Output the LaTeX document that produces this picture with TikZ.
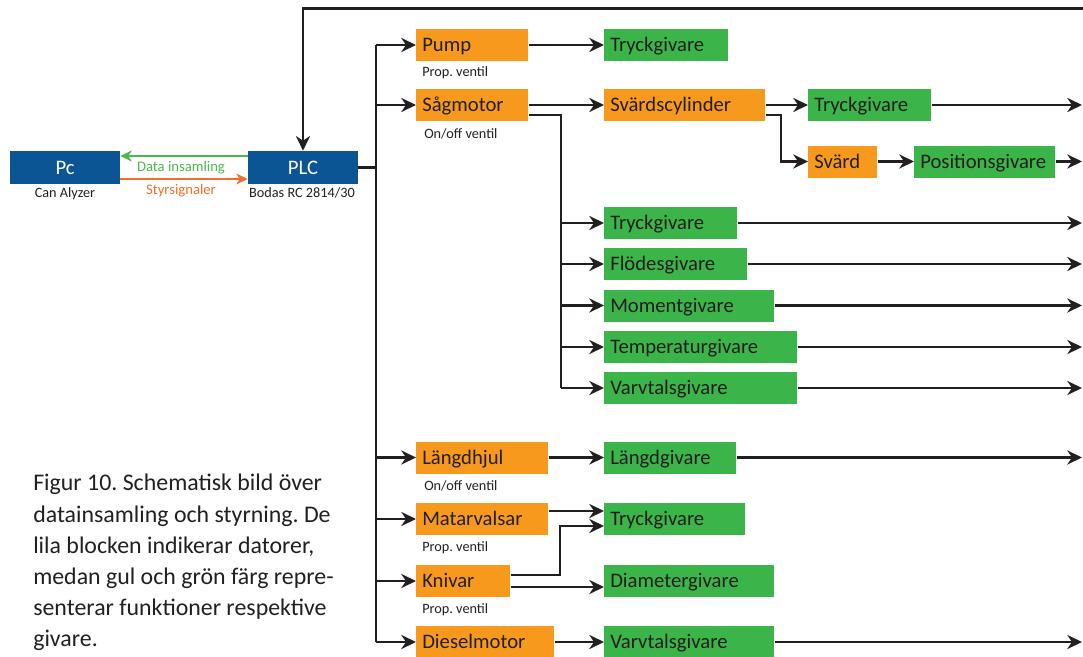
\documentclass[tikz,border=0pt]{standalone}
\usepackage{fontspec}
\setmainfont{Carlito}
\usetikzlibrary{arrows.meta,calc}
\definecolor{plcblue}{RGB}{12,85,148}
\definecolor{funcorange}{RGB}{247,153,28}
\definecolor{sensgreen}{RGB}{59,180,74}
\definecolor{datagreen}{RGB}{76,186,72}
\definecolor{ctrlorange}{RGB}{240,110,40}
\definecolor{ink}{RGB}{35,31,32}
\tikzset{
  pcbox/.style={fill=plcblue, text=white, minimum width=82.5pt, minimum height=24.75pt, inner sep=0pt, font=\fontsize{15.5}{18}\selectfont},
  blk/.style={anchor=west, minimum height=24pt, inner xsep=4.5pt, inner ysep=0pt, text width=#1, align=left, text height=9.8pt, text depth=0pt, text=ink, font=\fontsize{15.5}{18}\selectfont},
  fbox/.style={blk=#1, fill=funcorange},
  sbox/.style={blk=#1, fill=sensgreen},
  small/.style={font=\fontsize{10.7}{12}\selectfont, text=ink, inner sep=0pt},
  conn/.style={draw=ink, line width=1.9pt},
  arr/.style={conn, -{Stealth[length=11pt,width=10.5pt,inset=3.5pt]}},
  thinarr/.style={line width=1.5pt, -{Stealth[length=8.5pt,width=8pt,inset=2.5pt]}},
}
\begin{document}
\frenchspacing
\begin{tikzpicture}[x=0.75pt,y=-0.75pt]
\useasboundingbox (0,0) rectangle (1083,657);

% computers
\node[pcbox] (pc) at (65,167.5) {Pc};
\node[pcbox] (plc) at (303,167.5) {PLC};
\node[small, anchor=north] (pcl) at (65,187) {Can Alyzer};
\node[small, anchor=north] (plcl) at (302,187) {Bodas RC 2814/30};
\draw[thinarr, draw=datagreen, color=datagreen] ($(plc.west)+(0,-11.5)$) -- ($(pc.east)+(0,-11.5)$);
\draw[thinarr, draw=ctrlorange, color=ctrlorange] ($(pc.east)+(0,11.5)$) -- ($(plc.west)+(0,11.5)$);
\node[small, text=datagreen, font=\fontsize{11}{13}\selectfont] (dl) at (181,168) {Data insamling};
\node[small, text=ctrlorange, font=\fontsize{11}{13}\selectfont] (sl) at (181,190.5) {Styrsignaler};

% functions
\node[fbox=75pt] (pump) at (416,45) {Pump};
\node[fbox=75pt] (sag) at (416,105) {Sågmotor};
\node[fbox=90pt] (langd) at (416,457.5) {Längdhjul};
\node[fbox=90pt] (matar) at (416,519) {Matarvalsar};
\node[fbox=61.5pt] (kniv) at (416,581) {Knivar};
\node[fbox=94.5pt] (diesel) at (416,642) {Dieselmotor};
\node[fbox=111.75pt] (svc) at (604,105) {Svärdscylinder};
\node[fbox=42.75pt] (svard) at (808,161.5) {Svärd};

\node[small, anchor=west] (pv1) at (422,72.5) {Prop. ventil};
\node[small, anchor=west] (ov1) at (424,133.5) {On/off ventil};
\node[small, anchor=west] (ov2) at (424,486) {On/off ventil};
\node[small, anchor=west] (pv2) at (422,548) {Prop. ventil};
\node[small, anchor=west] (pv3) at (422,609.5) {Prop. ventil};

% sensors
\node[sbox=84pt] (tg1) at (604,45) {Tryckgivare};
\node[sbox=83.25pt] (tg2) at (808,105) {Tryckgivare};
\node[sbox=96.75pt] (pos) at (914,161.5) {Positionsgivare};
\node[sbox=90.75pt] (tg3) at (604,223) {Tryckgivare};
\node[sbox=98.25pt] (flo) at (604,264) {Flödesgivare};
\node[sbox=118.5pt] (mom) at (604,305.5) {Momentgivare};
\node[sbox=135.75pt] (temp) at (604,347) {Temperaturgivare};
\node[sbox=135.75pt] (vv1) at (604,388) {Varvtalsgivare};
\node[sbox=90pt] (lg) at (604,457.5) {Längdgivare};
\node[sbox=96.75pt] (tg4) at (604,519) {Tryckgivare};
\node[sbox=118.5pt] (dia) at (604,581) {Diametergivare};
\node[sbox=118.5pt] (vv2) at (604,642) {Varvtalsgivare};

% caption
\node[anchor=north west, inner sep=0pt, align=left, text=ink,
      font=\fontsize{17.9}{23.4}\selectfont] (cap) at (33,474)
  {Figur 10. Schematisk bild över\\datainsamling och styrning. De\\lila blocken indikerar datorer,\\medan gul och grön färg repre-\\senterar funktioner respektive\\givare.};

% trunk from PLC
\coordinate (tk) at (376,0);
\draw[conn] (plc.east) -- (plc.east -| tk);
\draw[conn] (pump.west -| tk) -- (diesel.west -| tk);
\foreach \n in {pump,sag,langd,matar,kniv,diesel}
  \draw[arr] (\n.west -| tk) -- (\n.west);

% feedback line on top
\coordinate (topr) at (1084,8.5);
\draw[arr] (topr) -| (plc.north);

% direct connections
\draw[arr] (pump) -- (tg1);
\draw[arr] (sag) -- (svc);
\draw[arr] (svc) -- (tg2);
\draw[arr] (svard) -- (pos);
\draw[arr] (langd) -- (lg);
\draw[arr] (diesel) -- (vv2);

% Sågmotor sensor bus
\coordinate (sb) at (561,0);
\draw[conn] ($(sag.east)+(0,10)$) -| (vv1.west -| sb);
\foreach \n in {tg3,flo,mom,temp,vv1}
  \draw[arr] (\n.west -| sb) -- (\n.west);

% Svärdscylinder to Svärd
\coordinate (sc) at (781,0);
\draw[arr] ($(svc.east)+(0,10)$) -| (svard.west -| sc) -- (svard.west);

% Matarvalsar / Knivar
\draw[arr] ($(matar.east)+(0,-8)$) -- ($(tg4.west)+(0,-8)$);
\coordinate (kb) at (560,0);
\draw[arr] ($(kniv.east)+(0,-6)$) -| ($(tg4.west -| kb)+(0,7)$) -- ($(tg4.west)+(0,7)$);
\draw[arr] ($(kniv.east)+(0,6)$) -- ($(dia.west)+(0,6)$);

% outputs to the right edge
\coordinate (re) at (1082,0);
\foreach \n in {tg2,pos,tg3,flo,mom,temp,vv1,lg,vv2}
  \draw[arr] (\n.east) -- (\n.east -| re);
\end{tikzpicture}
\end{document}
